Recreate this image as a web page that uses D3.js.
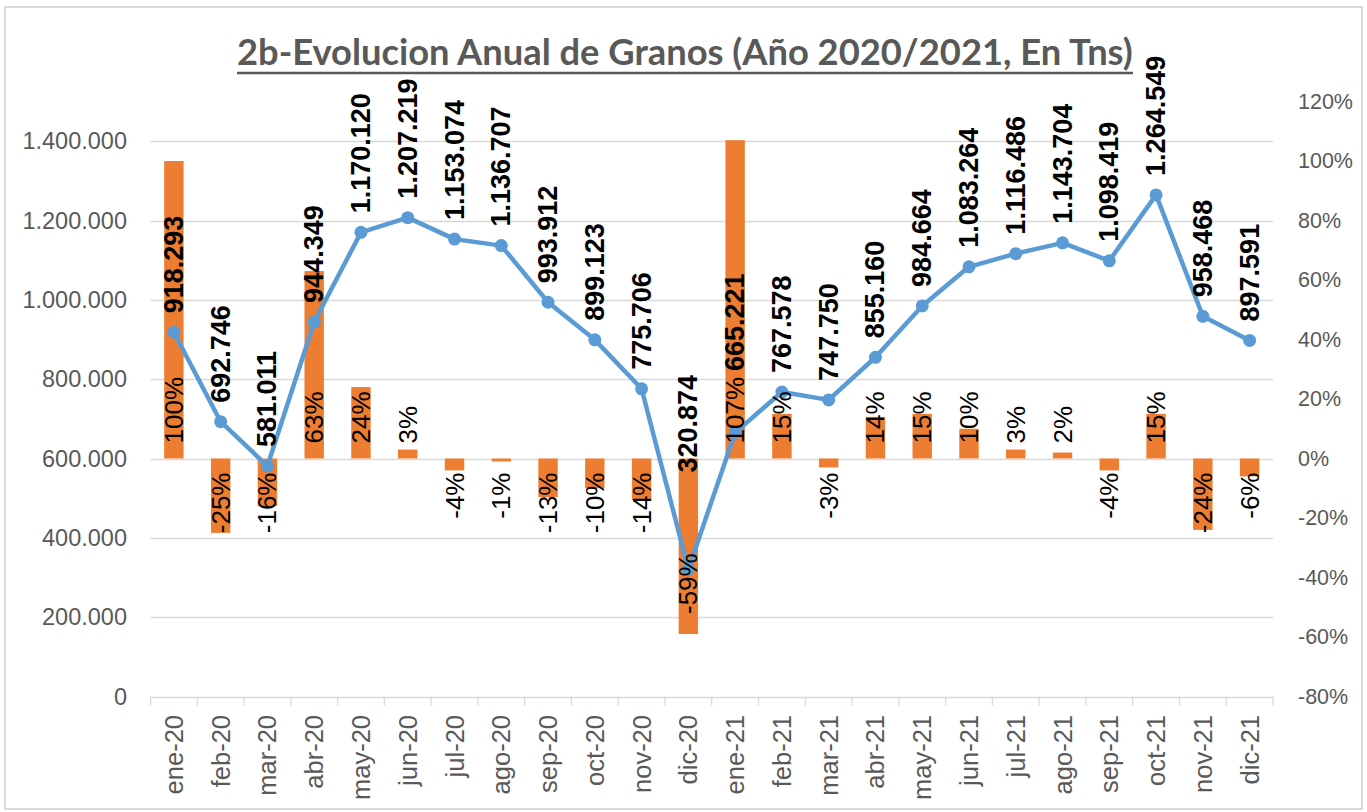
<!DOCTYPE html>
<html><head><meta charset="utf-8">
<script src="https://cdn.jsdelivr.net/npm/d3@7"></script>
<style>body{margin:0;background:#fff} svg{display:block}</style>
</head><body><svg id="c" width="1367" height="812"></svg>
<script>
const categories = ["ene-20","feb-20","mar-20","abr-20","may-20","jun-20","jul-20","ago-20","sep-20","oct-20","nov-20","dic-20",
                    "ene-21","feb-21","mar-21","abr-21","may-21","jun-21","jul-21","ago-21","sep-21","oct-21","nov-21","dic-21"];
const volumes = [918293, 692746, 581011, 944349, 1170120, 1207219, 1153074, 1136707, 993912, 899123, 775706, 320874,
                 665221, 767578, 747750, 855160, 984664, 1083264, 1116486, 1143704, 1098419, 1264549, 958468, 897591];
const changes = [100, -25, -16, 63, 24, 3, -4, -1, -13, -10, -14, -59,
                 107, 15, -3, 14, 15, 10, 3, 2, -4, 15, -24, -6];
const leftTicks = [0, 200000, 400000, 600000, 800000, 1000000, 1200000, 1400000];
const rightTicks = [-80, -60, -40, -20, 0, 20, 40, 60, 80, 100, 120];
const titleText = "2b-Evolucion Anual de Granos (Año 2020/2021, En Tns)";

const svg = d3.select("#c");
const m = {left: 150.5, right: 1273, top: 101.5, bottom: 696.5};
const GRAY = "#595959", GRID = "#D9D9D9", ORANGE = "#ED7D31", BLUE = "#5B9BD5";
const FONT = "'Liberation Sans', Arial, sans-serif";
const loc = d3.formatLocale({decimal: ",", thousands: ".", grouping: [3], currency: ["", ""], minus: "-"});
const fmt = loc.format(",d");

svg.append("rect").attr("x", 5).attr("y", 7).attr("width", 1357).attr("height", 802)
  .attr("fill", "#fff").attr("stroke", GRID).attr("stroke-width", 2);

const x = d3.scaleBand().domain(categories).range([m.left, m.right]).padding(0);
const step = x.step();
const cx = d => x(d) + step / 2;
const yL = d3.scaleLinear().domain([0, 1500000]).range([m.bottom, m.top]);
const yR = d3.scaleLinear().domain([-80, 120]).range([m.bottom, m.top]);

// gridlines
svg.append("g").selectAll("line").data(leftTicks).join("line")
  .attr("x1", m.left).attr("x2", m.right)
  .attr("y1", d => Math.round(yL(d)) + 0.5).attr("y2", d => Math.round(yL(d)) + 0.5)
  .attr("stroke", GRID).attr("stroke-width", 1.3);
// x ticks
svg.append("g").selectAll("line").data(d3.range(categories.length + 1)).join("line")
  .attr("x1", i => m.left + i * step).attr("x2", i => m.left + i * step)
  .attr("y1", m.bottom).attr("y2", m.bottom + 9)
  .attr("stroke", GRID).attr("stroke-width", 1.3);

// left axis labels
svg.append("g").selectAll("text").data(leftTicks).join("text")
  .attr("x", 127).attr("y", d => yL(d)).attr("text-anchor", "end").attr("dominant-baseline", "central")
  .attr("font-family", FONT).attr("font-size", 23.5).attr("fill", GRAY).text(d => fmt(d));
// right axis labels
svg.append("g").selectAll("text").data(rightTicks).join("text")
  .attr("x", 1298).attr("y", d => yR(d)).attr("text-anchor", "start").attr("dominant-baseline", "central")
  .attr("font-family", FONT).attr("font-size", 21.5).attr("fill", GRAY).text(d => d + "%");
// category labels
svg.append("g").selectAll("text").data(categories).join("text")
  .attr("transform", d => `translate(${cx(d)},715) rotate(-90)`)
  .attr("text-anchor", "end").attr("dominant-baseline", "central")
  .attr("font-family", FONT).attr("font-size", 25.5).attr("fill", GRAY).text(d => d);

// bars
const bw = step * 0.415;
svg.append("g").selectAll("rect").data(categories).join("rect")
  .attr("x", d => cx(d) - bw / 2).attr("width", bw)
  .attr("y", (d, i) => Math.min(yR(changes[i]), yR(0)))
  .attr("height", (d, i) => Math.abs(yR(changes[i]) - yR(0)))
  .attr("fill", ORANGE);

// line
const line = d3.line().x((d, i) => cx(categories[i])).y(d => yL(d));
svg.append("path").datum(volumes).attr("d", line).attr("fill", "none")
  .attr("stroke", BLUE).attr("stroke-width", 4.5).attr("stroke-linejoin", "round");
svg.append("g").selectAll("circle").data(volumes).join("circle")
  .attr("cx", (d, i) => cx(categories[i])).attr("cy", d => yL(d)).attr("r", 6.5).attr("fill", BLUE);

// percentage labels
const zeroY = yR(0);
const pctTop = [];
const pctG = svg.append("g");
changes.forEach((v, i) => {
  const t = pctG.append("text").attr("font-family", FONT).attr("font-size", 26).attr("fill", "#000")
    .attr("dominant-baseline", "central").text(v + "%");
  let ay, anchor;
  if (v >= 0) { ay = zeroY - 15; anchor = "start"; }
  else if (v < -50) { ay = yR(v) - 20; anchor = "start"; }
  else { ay = zeroY + 14; anchor = "end"; }
  t.attr("text-anchor", anchor).attr("transform", `translate(${cx(categories[i])},${ay}) rotate(-90)`);
  const len = t.node().getComputedTextLength();
  pctTop[i] = v >= 0 ? ay - len : Infinity;
});

// volume labels
const volG = svg.append("g");
volumes.forEach((v, i) => {
  let ay = Math.min(yL(v) - 19, zeroY + 14, pctTop[i] - 6);
  volG.append("text").attr("font-family", FONT).attr("font-size", 27).attr("font-weight", "bold").attr("fill", "#000")
    .attr("dominant-baseline", "central").attr("text-anchor", "start")
    .attr("transform", `translate(${cx(categories[i])},${ay}) rotate(-90)`).text(fmt(v));
});

// title
const tx = 237, tw = 896;
const title = svg.append("text").attr("x", tx).attr("y", 65)
  .attr("font-family", "Lato, 'Open Sans', sans-serif").attr("font-weight", "bold").attr("font-size", 40)
  .attr("fill", GRAY).text(titleText);
const w0 = title.node().getComputedTextLength();
title.attr("font-size", 40 * tw / w0);
svg.append("line").attr("x1", tx).attr("x2", tx + tw).attr("y1", 73).attr("y2", 73)
  .attr("stroke", GRAY).attr("stroke-width", 2.5);
</script></body></html>
